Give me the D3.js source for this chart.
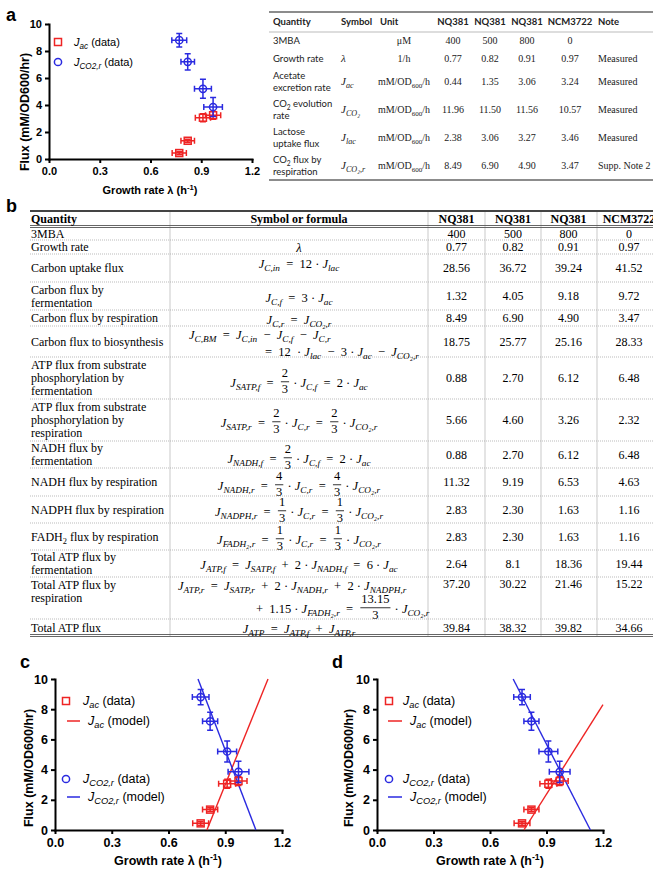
<!DOCTYPE html>
<html><head><meta charset="utf-8">
<script src="https://cdn.jsdelivr.net/npm/d3@7"></script>
<style>
body{margin:0;background:#fff}
svg text{white-space:pre}
</style></head><body>
<script>
// ---- scatter data (panels a, c, d)
var growthRate = [0.77, 0.82, 0.91, 0.97];
var acErrX = [0.042, 0.04, 0.045, 0.045];
var co2ErrX = [0.044, 0.04, 0.05, 0.055];
var jAc = [0.44, 1.35, 3.06, 3.24];
var jAcErr = [0.12, 0.12, 0.3, 0.3];
var jCO2r = [8.8, 7.2, 5.2, 3.85];
var jCO2rErr = [0.5, 0.6, 0.7, 0.7];
var xTicks = [0, 0.3, 0.6, 0.9, 1.2];
var yTicks = [0, 2, 4, 6, 8, 10];
// model lines, end points
var modelAcC = [[0.803, 0], [1.126, 10]];
var modelCO2C = [[0.756, 10], [1.062, 0]];
var modelAcD = [[0.78, 0], [1.2, 8.3]];
var modelCO2D = [[0.723, 10], [1.133, 0]];

// ---- table a
var aHeader = ["Quantity", "Symbol", "Unit", "NQ381", "NQ381", "NQ381", "NCM3722", "Note"];
var aQuantity = ["3MBA", "Growth rate", "Acetate|excretion rate", "CO_{2} evolution|rate", "Lactose|uptake flux", "CO_{2} flux by|respiration"];
var aSymbol = ["", "λ", "J_{ac}", "J_{CO₂}", "J_{lac}", "J_{CO₂,r}"];
var aUnit = ["μM", "1/h", "mM/OD_{600}/h", "mM/OD_{600}/h", "mM/OD_{600}/h", "mM/OD_{600}/h"];
var aNQ400 = ["400", "0.77", "0.44", "11.96", "2.38", "8.49"];
var aNQ500 = ["500", "0.82", "1.35", "11.50", "3.06", "6.90"];
var aNQ800 = ["800", "0.91", "3.06", "11.56", "3.27", "4.90"];
var aNCM = ["0", "0.97", "3.24", "10.57", "3.46", "3.47"];
var aNote = ["", "Measured", "Measured", "Measured", "Measured", "Supp. Note 2"];

// ---- table b
var bHeader = ["Quantity", "Symbol or formula", "NQ381", "NQ381", "NQ381", "NCM3722"];
var bQuantity = ["3MBA", "Growth rate", "Carbon uptake flux", "Carbon flux by|fermentation",
  "Carbon flux by respiration", "Carbon flux to biosynthesis",
  "ATP flux from substrate|phosphorylation by|fermentation",
  "ATP flux from substrate|phosphorylation by|respiration",
  "NADH flux by|fermentation", "NADH flux by respiration", "NADPH flux by respiration",
  "FADH_{2} flux by respiration", "Total ATP flux by|fermentation", "Total ATP flux by|respiration",
  "Total ATP flux"];
var bFormula = ["", "λ", "J_{C,in} = 12 · J_{lac}", "J_{C,f} = 3 · J_{ac}", "J_{C,r} = J_{CO₂,r}",
  "J_{C,BM} = J_{C,in} − J_{C,f} − J_{C,r}|= 12  · J_{lac} − 3 · J_{ac} − J_{CO₂,r}",
  "J_{SATP,f} = \\frac{2}{3} · J_{C,f} = 2 · J_{ac}",
  "J_{SATP,r} = \\frac{2}{3} · J_{C,r} = \\frac{2}{3} · J_{CO₂,r}",
  "J_{NADH,f} = \\frac{2}{3} · J_{C,f} = 2 · J_{ac}",
  "J_{NADH,r} = \\frac{4}{3} · J_{C,r} = \\frac{4}{3} · J_{CO₂,r}",
  "J_{NADPH,r} = \\frac{1}{3} · J_{C,r} = \\frac{1}{3} · J_{CO₂,r}",
  "J_{FADH₂,r} = \\frac{1}{3} · J_{C,r} = \\frac{1}{3} · J_{CO₂,r}",
  "J_{ATP,f} = J_{SATP,f} + 2 · J_{NADH,f} = 6 · J_{ac}",
  "J_{ATP,r} = J_{SATP,r} + 2 · J_{NADH,r} + 2 · J_{NADPH,r}|+ 1.15 · J_{FADH₂,r} = \\frac{13.15}{3} · J_{CO₂,r}",
  "J_{ATP} = J_{ATP,f} + J_{ATP,r}"];
var bNQ400 = ["400", "0.77", "28.56", "1.32", "8.49", "18.75", "0.88", "5.66", "0.88", "11.32", "2.83", "2.83", "2.64", "37.20", "39.84"];
var bNQ500 = ["500", "0.82", "36.72", "4.05", "6.90", "25.77", "2.70", "4.60", "2.70", "9.19", "2.30", "2.30", "8.1", "30.22", "38.32"];
var bNQ800 = ["800", "0.91", "39.24", "9.18", "4.90", "25.16", "6.12", "3.26", "6.12", "6.53", "1.63", "1.63", "18.36", "21.46", "39.82"];
var bNCM = ["0", "0.97", "41.52", "9.72", "3.47", "28.33", "6.48", "2.32", "6.48", "4.63", "1.16", "1.16", "19.44", "15.22", "34.66"];

var W = 653, H = 869;
var SANS = "'Liberation Sans', Arial, sans-serif";
var SERIF = "'Liberation Serif', 'Times New Roman', serif";
var LATO = "Lato, 'Open Sans', sans-serif";
var RED = "#ee2424", BLUE = "#2a2ae0";

var svg = d3.select("body").append("svg").attr("width", W).attr("height", H);

// text with _{sub} / ^{sup}
function rich(t, str, fs) {
  var shift = 0;
  str.split(/([_^]\{[^}]*\})/).forEach(function(p) {
    if (!p) return;
    var m = p.match(/^([_^])\{(.*)\}$/);
    if (m) {
      var s = m[1] == "_" ? fs * 0.3 : -fs * 0.4;
      t.append("tspan").attr("dy", s - shift).style("font-size", (fs * 0.7) + "px").text(m[2]);
      shift = s;
    } else {
      t.append("tspan").attr("dy", -shift).text(p);
      shift = 0;
    }
  });
  return t;
}

// J_{..} italic with subscript, λ italic; sp widens space round = + −
function mathText(t, str, fs, sp) {
  var shift = 0;
  str.split(/(J_\{[^}]*\}|λ)/).forEach(function(p) {
    if (!p) return;
    var m = p.match(/^J_\{([^}]*)\}$/);
    if (m) {
      t.append("tspan").attr("dy", -shift).style("font-style", "italic").text("J");
      t.append("tspan").attr("dy", fs * 0.25).style("font-style", "italic")
        .style("font-size", (fs * 0.74) + "px").text(m[1]);
      shift = fs * 0.25;
    } else if (p === "λ") {
      t.append("tspan").attr("dy", -shift).style("font-style", "italic").text(p);
      shift = 0;
    } else {
      if (sp) p = p.replace(/ (?=[=+−] )/g, "\u2002").replace(/([=+−]) /g, "$1\u2002");
      t.append("tspan").attr("dy", -shift).text(p);
      shift = 0;
    }
  });
  return t;
}

// one line of formula, fractions stacked; fonts set before measuring
function formula(parent, src, x, y, anchor, fs, fam) {
  var g = parent.append("g").style("font-family", fam).style("font-size", fs + "px");
  var cx = 0;
  src.split(/(\\frac\{[^}]*\}\{[^}]*\})/).forEach(function(tok) {
    if (!tok) return;
    var m = tok.match(/^\\frac\{([^}]*)\}\{([^}]*)\}$/);
    if (m) {
      var n = g.append("text").attr("y", -fs * 0.8).attr("text-anchor", "middle").text(m[1]);
      var d = g.append("text").attr("y", fs * 0.45).attr("text-anchor", "middle").text(m[2]);
      var w = Math.max(n.node().getComputedTextLength(), d.node().getComputedTextLength()) + 2;
      n.attr("x", cx + 1 + w / 2);
      d.attr("x", cx + 1 + w / 2);
      g.append("line").attr("x1", cx + 1).attr("x2", cx + 1 + w)
        .attr("y1", -fs * 0.42).attr("y2", -fs * 0.42)
        .attr("stroke", "#000").attr("stroke-width", 0.8);
      cx += w + 2;
      return;
    }
    var t = g.append("text").attr("x", cx);
    mathText(t, tok, fs, true);
    cx += t.node().getComputedTextLength();
  });
  g.attr("transform", "translate(" + (anchor == "middle" ? x - cx / 2 : x) + "," + y + ")");
  return g;
}

// ================= panel label letters
[["a", 6, 21], ["b", 6, 212], ["c", 20, 668], ["d", 332, 668]].forEach(function(l) {
  svg.append("text").attr("x", l[1]).attr("y", l[2]).text(l[0])
    .style("font-family", SANS).style("font-weight", "bold").style("font-size", "18px");
});

// ================= charts
function panel(cfg) {
  var x = d3.scaleLinear().domain([0, 1.2]).range([cfg.x0, cfg.x1]);
  var y = d3.scaleLinear().domain([0, 10]).range([cfg.y0, cfg.y1]);
  var g = svg.append("g");

  var xa = g.append("g").attr("transform", "translate(0," + cfg.y0 + ")")
    .call(d3.axisBottom(x).tickValues(xTicks).tickFormat(d3.format(".1f"))
      .tickSize(4).tickSizeOuter(0).tickPadding(cfg.xPad));
  var ya = g.append("g").attr("transform", "translate(" + cfg.x0 + ",0)")
    .call(d3.axisLeft(y).tickValues(yTicks).tickSize(4).tickSizeOuter(0).tickPadding(3));
  [xa, ya].forEach(function(a) {
    a.selectAll("path, line").attr("stroke", "#000").attr("stroke-width", 2);
    a.select(".domain").attr("stroke-linecap", "square");
    a.selectAll("text").style("font-family", SANS).style("font-weight", "bold")
      .style("font-size", cfg.tickFs + "px").attr("fill", "#000");
  });

  // axis titles
  rich(g.append("text").attr("x", cfg.xt[0]).attr("y", cfg.xt[1]).attr("text-anchor", "middle")
    .style("font-family", SANS).style("font-weight", "bold").style("font-size", cfg.titleFs + "px"),
    "Growth rate λ (h^{-1})", cfg.titleFs);
  g.append("text").attr("transform", "translate(" + cfg.yt[0] + "," + cfg.yt[1] + ") rotate(-90)")
    .attr("text-anchor", "middle").text("Flux (mM/OD600/hr)")
    .style("font-family", SANS).style("font-weight", "bold").style("font-size", cfg.yTitleFs + "px");

  // model lines
  var line = d3.line().x(function(d) { return x(d[0]); }).y(function(d) { return y(d[1]); });
  if (cfg.modelAc) {
    g.append("path").datum(cfg.modelAc).attr("d", line).attr("fill", "none").attr("stroke", RED).attr("stroke-width", 1.4);
    g.append("path").datum(cfg.modelCO2).attr("d", line).attr("fill", "none").attr("stroke", BLUE).attr("stroke-width", 1.4);
  }

  // error bars + markers
  function series(vals, errY, errX, color, shape) {
    var s = g.append("g").attr("stroke", color).attr("fill", "none").attr("stroke-width", 1.5);
    growthRate.forEach(function(gr, i) {
      var px = x(gr), py = y(vals[i]);
      var xl = x(gr - errX[i]), xr = x(gr + errX[i]);
      var yt = y(vals[i] + errY[i]), yb = y(vals[i] - errY[i]);
      var p = "M" + xl + "," + py + "H" + xr +
        "M" + xl + "," + (py - 3) + "V" + (py + 3) +
        "M" + xr + "," + (py - 3) + "V" + (py + 3) +
        "M" + px + "," + yt + "V" + yb +
        "M" + (px - 3) + "," + yt + "H" + (px + 3) +
        "M" + (px - 3) + "," + yb + "H" + (px + 3);
      s.append("path").attr("d", p);
      if (shape == "sq") s.append("rect").attr("x", px - 3.5).attr("y", py - 3.5).attr("width", 7).attr("height", 7);
      else s.append("circle").attr("cx", px).attr("cy", py).attr("r", 3.6);
    });
  }
  series(jAc, jAcErr, acErrX, RED, "sq");
  series(jCO2r, jCO2rErr, co2ErrX, BLUE, "ci");

  // legend
  cfg.legend.forEach(function(L) {
    var color = L.c == "r" ? RED : BLUE;
    if (L.type == "sq") g.append("rect").attr("x", L.x - 3.5).attr("y", L.y - 3.5).attr("width", 7).attr("height", 7)
      .attr("fill", "none").attr("stroke", color).attr("stroke-width", 1.5);
    else if (L.type == "ci") g.append("circle").attr("cx", L.x).attr("cy", L.y).attr("r", 3.6)
      .attr("fill", "none").attr("stroke", color).attr("stroke-width", 1.5);
    else g.append("line").attr("x1", L.x).attr("x2", L.x2).attr("y1", L.y).attr("y2", L.y)
      .attr("stroke", color).attr("stroke-width", 1.5);
    mathText(g.append("text").attr("x", L.tx).attr("y", L.y + 4)
      .style("font-family", SANS).style("font-size", cfg.legFs + "px"), L.text, cfg.legFs);
  });
}

panel({x0: 49, x1: 252, y0: 159, y1: 24, tickFs: 11, xPad: 4, titleFs: 11, yTitleFs: 12.5,
  xt: [150, 194], yt: [29, 112], legFs: 11,
  legend: [
    {type: "sq", c: "r", x: 58, y: 42, tx: 74, text: "J_{ac} (data)"},
    {type: "ci", c: "b", x: 58, y: 62, tx: 74, text: "J_{CO2,r} (data)"}]});

panel({x0: 55, x1: 282, y0: 830, y1: 679, tickFs: 12.5, xPad: 4, titleFs: 12.5, yTitleFs: 12.5,
  xt: [168, 865], yt: [33, 768], legFs: 12.5, modelAc: modelAcC, modelCO2: modelCO2C,
  legend: [
    {type: "sq", c: "r", x: 66, y: 701, tx: 83, text: "J_{ac} (data)"},
    {type: "ln", c: "r", x: 67, x2: 80, y: 721, tx: 88, text: "J_{ac} (model)"},
    {type: "ci", c: "b", x: 66, y: 779, tx: 83, text: "J_{CO2,r} (data)"},
    {type: "ln", c: "b", x: 67, x2: 80, y: 797, tx: 88, text: "J_{CO2,r} (model)"}]});

panel({x0: 377, x1: 603, y0: 830, y1: 679, tickFs: 12.5, xPad: 4, titleFs: 12.5, yTitleFs: 12.5,
  xt: [490, 865], yt: [353, 768], legFs: 12.5, modelAc: modelAcD, modelCO2: modelCO2D,
  legend: [
    {type: "sq", c: "r", x: 389, y: 701, tx: 403, text: "J_{ac} (data)"},
    {type: "ln", c: "r", x: 388, x2: 402, y: 721, tx: 410, text: "J_{ac} (model)"},
    {type: "ci", c: "b", x: 389, y: 779, tx: 403, text: "J_{CO2,r} (data)"},
    {type: "ln", c: "b", x: 388, x2: 402, y: 797, tx: 410, text: "J_{CO2,r} (model)"}]});

// ================= table a
(function() {
  var g = svg.append("g").attr("fill", "#222");
  var colX = [273, 341, 380, 453, 490, 527, 570, 598];
  var anch = ["start", "start", "start", "middle", "middle", "middle", "middle", "start"];
  var base = [44, 62, 85, 113, 141, 169];
  g.append("line").attr("x1", 269).attr("x2", W).attr("y1", 12).attr("y2", 12).attr("stroke", "#666").attr("stroke-width", 1.3);
  g.append("line").attr("x1", 269).attr("x2", W).attr("y1", 32).attr("y2", 32).attr("stroke", "#aaa").attr("stroke-width", 0.8);
  g.append("line").attr("x1", 269).attr("x2", W).attr("y1", 180).attr("y2", 180).attr("stroke", "#666").attr("stroke-width", 1.3);
  aHeader.forEach(function(h, i) {
    g.append("text").attr("x", colX[i]).attr("y", 25).attr("text-anchor", anch[i]).text(h)
      .style("font-family", LATO).style("font-weight", "bold").style("font-size", "9.5px");
  });
  var cols = [aNQ400, aNQ500, aNQ800, aNCM];
  aQuantity.forEach(function(q, i) {
    var lines = q.split("|");
    lines.forEach(function(l, k) {
      rich(g.append("text").attr("x", colX[0]).attr("y", base[i] + (k - (lines.length - 1) / 2) * 12)
        .style("font-family", LATO).style("font-size", "9.5px"), l, 9.5);
    });
    if (aSymbol[i]) formula(g, aSymbol[i], colX[1], base[i], "start", 11, SERIF);
    rich(g.append("text").attr("x", 404).attr("y", base[i]).attr("text-anchor", "middle")
      .style("font-family", SERIF).style("font-size", "10px"), aUnit[i], 10);
    cols.forEach(function(c, j) {
      g.append("text").attr("x", colX[3 + j]).attr("y", base[i]).attr("text-anchor", "middle").text(c[i])
        .style("font-family", SERIF).style("font-size", "10px");
    });
    g.append("text").attr("x", colX[7]).attr("y", base[i]).text(aNote[i])
      .style("font-family", SERIF).style("font-size", "10px");
  });
})();

// ================= table b
(function() {
  var g = svg.append("g");
  var rowTop = [226, 240, 254, 282, 310, 326, 357, 399, 441, 468, 496, 523, 550, 577, 619, 636];
  var fBase = [0, 252, 268, 302, 324, [339, 356], 387, 427, 463, 490, 516, 544, 569, [590, 613], 633];
  var fStart = {5: [189, 265], 13: [178, 256]};
  var vLines = [170, 428, 485, 541, 597];
  var valX = [456.5, 513, 568.5, 629];
  var FS = 12;

  vLines.forEach(function(v) {
    g.append("line").attr("x1", v).attr("x2", v).attr("y1", 211).attr("y2", 636).attr("stroke", "#bbb").attr("stroke-width", 0.8);
  });
  rowTop.slice(1, -1).forEach(function(r) {
    g.append("line").attr("x1", 30).attr("x2", W).attr("y1", r).attr("y2", r)
      .attr("stroke", "#aaa").attr("stroke-width", 0.8).attr("stroke-dasharray", "1,1");
  });
  g.append("line").attr("x1", 30).attr("x2", W).attr("y1", 211).attr("y2", 211).attr("stroke", "#444").attr("stroke-width", 2);
  [225.5, 227.5, 634.5, 636.5].forEach(function(r) {
    g.append("line").attr("x1", 30).attr("x2", W).attr("y1", r).attr("y2", r).attr("stroke", "#555").attr("stroke-width", 0.9);
  });

  var hx = [31, 299].concat(valX);
  bHeader.forEach(function(h, i) {
    g.append("text").attr("x", hx[i]).attr("y", 223).attr("text-anchor", i == 0 ? "start" : "middle").text(h)
      .style("font-family", SERIF).style("font-weight", "bold").style("font-size", FS + "px");
  });

  var cols = [bNQ400, bNQ500, bNQ800, bNCM];
  bQuantity.forEach(function(q, i) {
    var top = i == 0 ? 227 : rowTop[i], bot = rowTop[i + 1];
    var mid = (top + bot) / 2;
    var lines = q.split("|");
    lines.forEach(function(l, k) {
      var yy = i == 13 ? top + 12 + k * 13 : mid - (lines.length - 1) * 6.5 + 4 + k * 13;
      rich(g.append("text").attr("x", 31).attr("y", yy)
        .style("font-family", SERIF).style("font-size", FS + "px"), l, FS);
    });
    var vy = i == 13 ? top + 11 : mid + 4;
    cols.forEach(function(c, j) {
      g.append("text").attr("x", valX[j]).attr("y", vy).attr("text-anchor", "middle").text(c[i])
        .style("font-family", SERIF).style("font-size", FS + "px");
    });
    if (bFormula[i]) {
      bFormula[i].split("|").forEach(function(src, k) {
        var by = Array.isArray(fBase[i]) ? fBase[i][k] : fBase[i];
        if (fStart[i]) formula(g, src, fStart[i][k], by, "start", 12.5, SERIF);
        else formula(g, src, 299, by, "middle", 12.5, SERIF);
      });
    }
  });
})();
</script>
</body></html>
